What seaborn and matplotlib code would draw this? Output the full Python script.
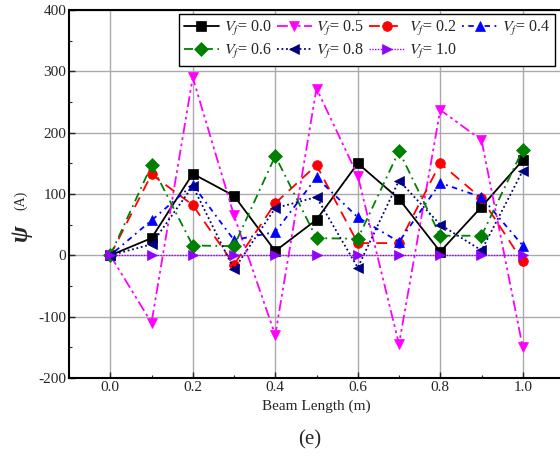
import numpy as np
import pandas as pd
import matplotlib
matplotlib.use("Agg")
import matplotlib.pyplot as plt
from matplotlib.ticker import MultipleLocator
import seaborn as sns

# data
beam_length = [0.0, 0.1, 0.2, 0.3, 0.4, 0.5, 0.6, 0.7, 0.8, 0.9, 1.0]
vf_00 = [0, 28, 133, 97, 7, 58, 150, 92, 6, 79, 155]
vf_05 = [0, -110, 290, 65, -130, 272, 130, -145, 237, 188, -150]
vf_02 = [0, 132, 82, -15, 85, 147, 20, 20, 150, 93, -10]
vf_04 = [0, 57, 115, 25, 38, 127, 62, 22, 118, 95, 16]
vf_06 = [0, 147, 16, 15, 162, 28, 27, 170, 32, 32, 172]
vf_08 = [0, 18, 113, -23, 77, 95, -20, 122, 50, 8, 138]
vf_10 = [0, 0, 0, 0, 0, 0, 0, 0, 0, 0, 0]

labels = ["0.0", "0.5", "0.2", "0.4", "0.6", "0.8", "1.0"]
series = [vf_00, vf_05, vf_02, vf_04, vf_06, vf_08, vf_10]

styles = [
    dict(color="black", marker="s", ls="-"),
    dict(color="#FF00FF", marker="v", ls=(0, (6, 2, 1.5, 2, 1.5, 2))),
    dict(color="red", marker="o", ls=(0, (6, 4))),
    dict(color="blue", marker="^", ls=(0, (1, 2.5, 3, 2.5))),
    dict(color="green", marker="D", ls=(0, (5, 2.5, 1, 2.5))),
    dict(color="navy", marker="<", ls=(0, (1, 1.5))),
    dict(color="#8F00FF", marker=">", ls=(0, (1, 1))),
]

sns.set_style("ticks")
plt.rcParams["font.family"] = ["Liberation Serif", "DejaVu Serif"]
plt.rcParams["mathtext.fontset"] = "stix"
plt.rcParams["axes.unicode_minus"] = False
plt.rcParams["xtick.direction"] = "in"
plt.rcParams["ytick.direction"] = "in"

fig = plt.figure(figsize=(5.6, 4.66), dpi=100)
ax = fig.add_axes([69 / 560, 1 - 378 / 466, 495 / 560, 368 / 466])

for lab, vals, st in zip(labels, series, styles):
    df = pd.DataFrame({"x": beam_length, "y": vals})
    lw = 1.0 if lab == "1.0" else 1.3
    sns.lineplot(data=df, x="x", y="y", ax=ax, color=st["color"],
                 marker=st["marker"], markersize=7, markeredgewidth=0.5,
                 markeredgecolor=st["color"], linestyle=st["ls"], linewidth=lw,
                 label=r"$V_f$= " + lab)

ax.set_xlim(-0.1, 1.1)
ax.set_ylim(-200, 400)
ax.xaxis.set_major_locator(MultipleLocator(0.2))
ax.xaxis.set_minor_locator(MultipleLocator(0.1))
ax.yaxis.set_major_locator(MultipleLocator(100))
ax.yaxis.set_minor_locator(MultipleLocator(50))
ax.set_xticks([0.0, 0.2, 0.4, 0.6, 0.8, 1.0])
ax.set_xticklabels(["0.0", "0.2", "0.4", "0.6", "0.8", "1.0"])
ax.tick_params(axis="both", which="major", labelsize=11, length=4, width=1, pad=2)
ax.tick_params(axis="both", which="minor", length=2, width=0.8)
ax.grid(True, which="major", color="#aaaaaa", linewidth=1.0)
for s in ax.spines.values():
    s.set_linewidth(1.5)
    s.set_color("black")

ax.set_xlabel("Beam Length (m)", fontsize=11, labelpad=4)
ax.set_ylabel("")
ax.text(-0.098, 0.395, "ψ", transform=ax.transAxes, rotation=90, fontsize=18,
        fontweight="bold", fontstyle="italic", ha="center", va="center")
ax.text(-0.098, 0.483, "(A)", transform=ax.transAxes, rotation=90, fontsize=10,
        ha="center", va="center")
fig.text(310 / 560, 1 - 440 / 466, "(e)", fontsize=15, ha="center", va="center")

# legend filled row by row: reorder since matplotlib fills columns first
handles, texts = ax.get_legend_handles_labels()
order = [0, 4, 1, 5, 2, 6, 3]
leg = ax.legend([handles[i] for i in order], [texts[i] for i in order],
                loc="upper right", ncol=4, fontsize=11.5, frameon=True,
                fancybox=False, edgecolor="black", framealpha=1,
                handlelength=2.2, handletextpad=0.3, columnspacing=0.3,
                borderpad=0.3, labelspacing=0.25, borderaxespad=0.25,
                bbox_to_anchor=(0.99, 1.0))
leg.get_frame().set_linewidth(1.0)

fig.savefig("out.png", dpi=100)
